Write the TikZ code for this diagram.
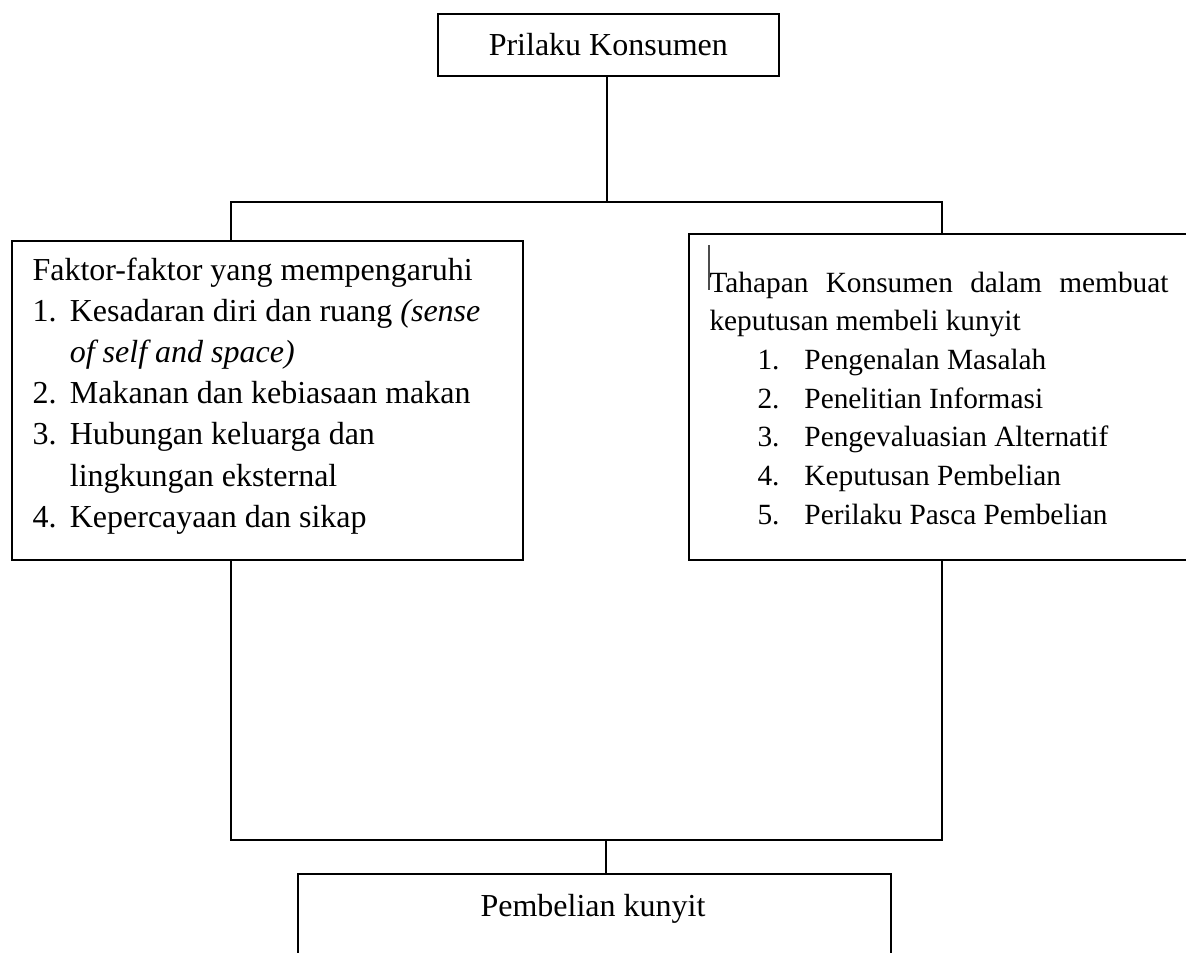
\documentclass[tikz,border=0pt]{standalone}
\usepackage{fontspec}
\setmainfont{Liberation Serif}
\usepackage{tikz}
\usetikzlibrary{positioning, calc}

\newcommand{\nomor}[1]{\makebox[14pt][l]{#1}}
\newcommand{\langkah}[1]{\hspace*{18pt}\makebox[17.6pt][l]{#1}}

\tikzset{
	kotak/.style={draw, line width=0.6pt, inner sep=0pt, anchor=north west},
	isi/.style={inner sep=0pt, anchor=base west, font=\fontsize{12}{15.45}\selectfont},
	garis/.style={line width=0.55pt},
}

\begin{document}
\begin{tikzpicture}[x=0.375pt, y=-0.375pt]
		\useasboundingbox (0,0) rectangle (1186,952);
		%% kotak
		\node[kotak, minimum width=127.9pt, minimum height=23.25pt, font=\fontsize{12}{14}\selectfont] (atas) at (437,13) {Prilaku Konsumen};
		\node[kotak, minimum width=191.6pt, minimum height=119.6pt] (kiri) at (11,240) {};
		\node[kotak, minimum width=192pt, minimum height=122.25pt] (kanan) at (688,233) {};
		\node[kotak, minimum width=222.4pt, minimum height=33pt] (beli) at (297,873) {};
		%% isi
		\node[isi] (faktor) at (32,280) {\parbox[t]{185pt}{\fontsize{12}{15.45}\selectfont
			Faktor-faktor yang mempengaruhi\\
			\nomor{1.}Kesadaran diri dan ruang \textit{(sense}\\
			\hspace*{14pt}\textit{of self and space)}\\
			\nomor{2.}Makanan dan kebiasaan makan\\
			\nomor{3.}Hubungan keluarga dan\\
			\hspace*{14pt}lingkungan eksternal\\
			\nomor{4.}Kepercayaan dan sikap}};
		\node[isi] (tahapan) at (709,292) {\parbox[t]{180pt}{\fontsize{11}{14.5}\selectfont
			\makebox[172.1pt][s]{Tahapan Konsumen dalam membuat}\\
			keputusan membeli kunyit\\
			\langkah{1.}Pengenalan Masalah\\
			\langkah{2.}Penelitian Informasi\\
			\langkah{3.}Pengevaluasian Alternatif\\
			\langkah{4.}Keputusan Pembelian\\
			\langkah{5.}Perilaku Pasca Pembelian}};
		\node[isi, anchor=base] (belitxt) at (593,916) {Pembelian kunyit};
		\draw[line width=0.4pt, black!70] (709,245) -- (709,290);
		%% garis
		\coordinate (cabang) at (607,202);
		\coordinate (kiriAtas) at (231,202);
		\coordinate (kananAtas) at (942,202);
		\coordinate (kiriBawah) at (231,840);
		\coordinate (kananBawah) at (942,840);
		\coordinate (gabung) at (606,840);
		\draw[garis] (atas.south -| cabang) -- (cabang);
		\draw[garis] (kiriAtas |- kiri.north) -- (kiriAtas) -- (kananAtas) -- (kananAtas |- kanan.north);
		\draw[garis] (kiriBawah |- kiri.south) -- (kiriBawah) -- (kananBawah) -- (kananBawah |- kanan.south);
		\draw[garis] (gabung) -- (gabung |- beli.north);
\end{tikzpicture}
\end{document}
